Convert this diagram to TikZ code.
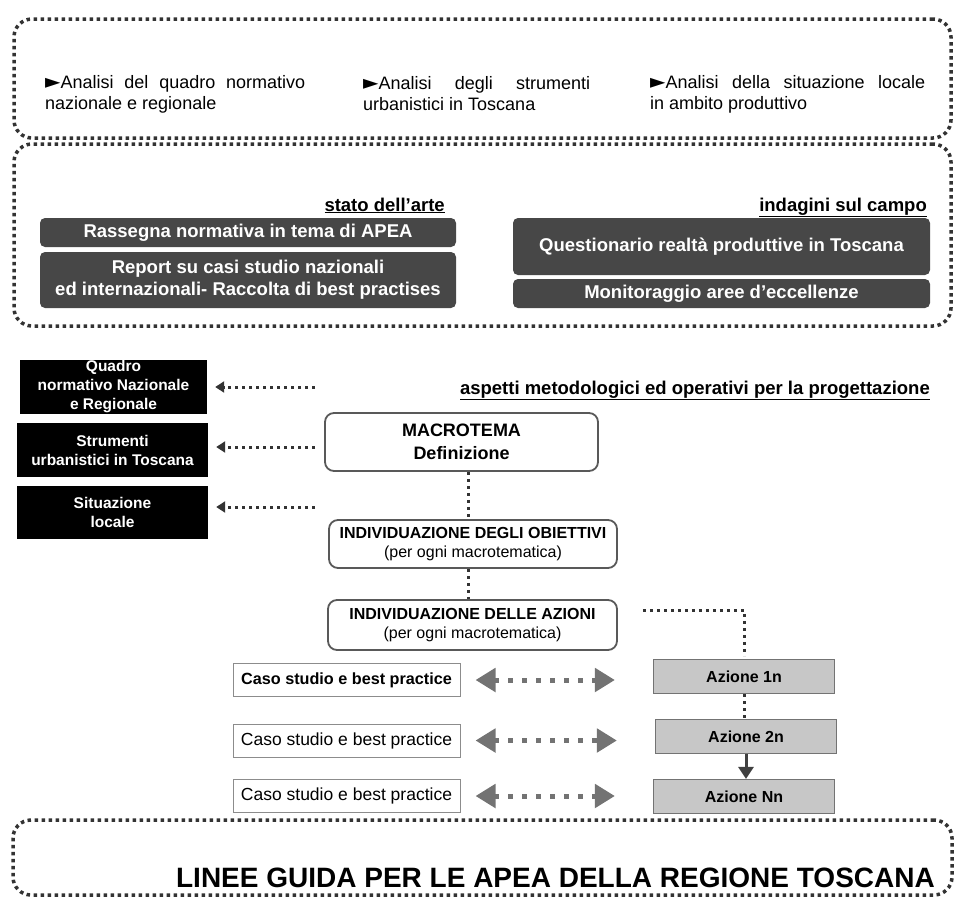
\documentclass[tikz,border=0pt]{standalone}
\usepackage{fontspec}
\setmainfont{Liberation Sans}
\newfontfamily\symfont{DejaVu Sans}
\usetikzlibrary{arrows.meta}
\newcommand{\fsz}[2]{\fontsize{#1}{#2}\selectfont}

\begin{document}
\begin{tikzpicture}[x=1pt,y=-1pt,
  dotframe/.style={draw=black!80,line width=3.5pt,dash pattern=on 3.5pt off 3.5pt,rounded corners=18pt,inner sep=0pt},
  intro/.style={font=\fsz{18}{21},inner sep=0pt,align=justify,anchor=west},
  darkbox/.style={fill=black!72,text=white,rounded corners=5pt,font=\fsz{18.5}{22}\bfseries,align=center,inner sep=0pt},
  infobox/.style={fill=black,text=white,font=\fsz{15.5}{19}\bfseries,align=center,inner sep=0pt},
  stepbox/.style={draw=black!65,line width=1.8pt,rounded corners=9pt,align=center,inner sep=0pt},
  caso/.style={draw=black!45,line width=1pt,minimum width=227pt,minimum height=33pt,inner sep=0pt,font=\fsz{17.5}{20}},
  azbox/.style={fill=black!22,draw=black!55,line width=1.2pt,minimum width=181pt,minimum height=34pt,inner sep=0pt,font=\fsz{16}{19}\bfseries},
  heading/.style={font=\fsz{18.5}{22}\bfseries,inner sep=0pt,anchor=base east},
  dotlink/.style={draw=black!80,line width=3pt,dash pattern=on 3pt off 4pt},
  backarrow/.style={dotlink,-{Triangle[length=9pt,width=11pt]},shorten >=8pt},
  twoway/.style={draw=black!55,line width=5pt,dash pattern=on 5pt off 9pt,{Triangle[length=20pt,width=23pt]}-{Triangle[length=20pt,width=23pt]}},
  solidarrow/.style={draw=black!75,line width=3pt,-{Triangle[length=12pt,width=15pt]}}]
  \useasboundingbox (0,0) rectangle (954,898);

  % frames
  \node[dotframe,minimum width=937pt,minimum height=119pt] (analisi) at (482.5,78.5) {};
  \node[dotframe,minimum width=937pt,minimum height=182pt] (arte) at (482.5,235) {};
  \node[dotframe,minimum width=939pt,minimum height=75pt] (final) at (482.5,857.5) {};

  % analisi
  \node[intro,text width=260pt] (an1) at (45,94) {{\symfont\fsz{20}{21}►}Analisi del quadro normativo\linebreak nazionale e regionale};
  \node[intro,text width=227pt] (an2) at (363,94) {{\symfont\fsz{20}{21}►}Analisi degli strumenti\linebreak urbanistici in Toscana};
  \node[intro,text width=275pt] (an3) at (650,94) {{\symfont\fsz{20}{21}►}Analisi della situazione locale\linebreak in ambito produttivo};

  % stato dell'arte / indagini
  \node[heading] (sda) at (445,211) {\underline{stato dell'arte}};
  \node[heading] (isc) at (927,211) {\underline{indagini sul campo}};
  \node[darkbox,minimum width=416pt,minimum height=29pt] (rass) at (248,232.5) {Rassegna normativa in tema di APEA};
  \node[darkbox,minimum width=416pt,minimum height=56pt] (report) at (248,280) {Report su casi studio nazionali\\ed internazionali- Raccolta di best practises};
  \node[darkbox,minimum width=417pt,minimum height=57pt] (quest) at (721.5,246.5) {Questionario realtà produttive in Toscana};
  \node[darkbox,minimum width=417pt,minimum height=29pt] (monit) at (721.5,293.5) {Monitoraggio aree d'eccellenze};

  % riferimenti
  \node[infobox,minimum width=187pt,minimum height=54pt] (quadro) at (113.5,387) {Quadro\\normativo Nazionale\\e Regionale};
  \node[infobox,minimum width=191pt,minimum height=54pt] (strum) at (112.5,450) {Strumenti\\urbanistici in Toscana};
  \node[infobox,minimum width=191pt,minimum height=53pt] (situ) at (112.5,512.5) {Situazione\\locale};
  \coordinate (f1) at (315,387);
  \coordinate (f2) at (315,447);
  \coordinate (f3) at (315,507);
  \draw[backarrow] (f1) -- (f1 -| quadro.east);
  \draw[backarrow] (f2) -- (f2 -| strum.east);
  \draw[backarrow] (f3) -- (f3 -| situ.east);

  \node[heading] (asp) at (930,394) {\underline{aspetti metodologici ed operativi per la progettazione}};

  % percorso
  \node[stepbox,minimum width=273pt,minimum height=58pt,font=\fsz{18}{23}\bfseries] (macro) at (461.5,442) {MACROTEMA\\Definizione};
  \node[stepbox,minimum width=288pt,minimum height=48pt,font=\fsz{16}{19}] (obiet) at (473,544) {{\bfseries INDIVIDUAZIONE DEGLI OBIETTIVI}\\(per ogni macrotematica)};
  \node[stepbox,minimum width=289pt,minimum height=50pt,font=\fsz{16}{19}] (azioni) at (472.5,625) {{\bfseries INDIVIDUAZIONE DELLE AZIONI}\\(per ogni macrotematica)};
  \draw[dotlink] ([xshift=6.5pt]macro.south) -- ([xshift=-5pt]obiet.north);
  \draw[dotlink] ([xshift=-5pt]obiet.south) -- ([xshift=-4.5pt]azioni.north);

  % azioni
  \node[azbox] (az1) at (744,676.5) {Azione 1n};
  \node[azbox] (az2) at (746,736.5) {Azione 2n};
  \node[azbox] (azN) at (744,796.5) {Azione Nn};
  \draw[dotlink,shorten >=3pt] ([xshift=25pt,yshift=15pt]azioni.east) -| (az1.north);
  \draw[dotlink] (az1.south) -- (az1.south |- az2.north);
  \draw[solidarrow] (az2.south) -- (az2.south |- azN.north);

  % casi studio
  \node[caso,font=\fsz{16.2}{19}\bfseries] (caso1) at (346.5,680) {Caso studio e best practice};
  \node[caso] (caso2) at (346.5,740.5) {Caso studio e best practice};
  \node[caso] (caso3) at (346.5,796) {Caso studio e best practice};
  \foreach \c/\a in {caso1/az1,caso2/az2,caso3/azN}
    \draw[twoway,shorten <=15pt,shorten >=38pt] (\c.east) -- (\c.east -| \a.west);

  \node[anchor=base east,font=\fsz{28}{30}\bfseries,inner sep=0pt] (titolo) at (935,887) {LINEE GUIDA PER LE APEA DELLA REGIONE TOSCANA};
\end{tikzpicture}
\end{document}
